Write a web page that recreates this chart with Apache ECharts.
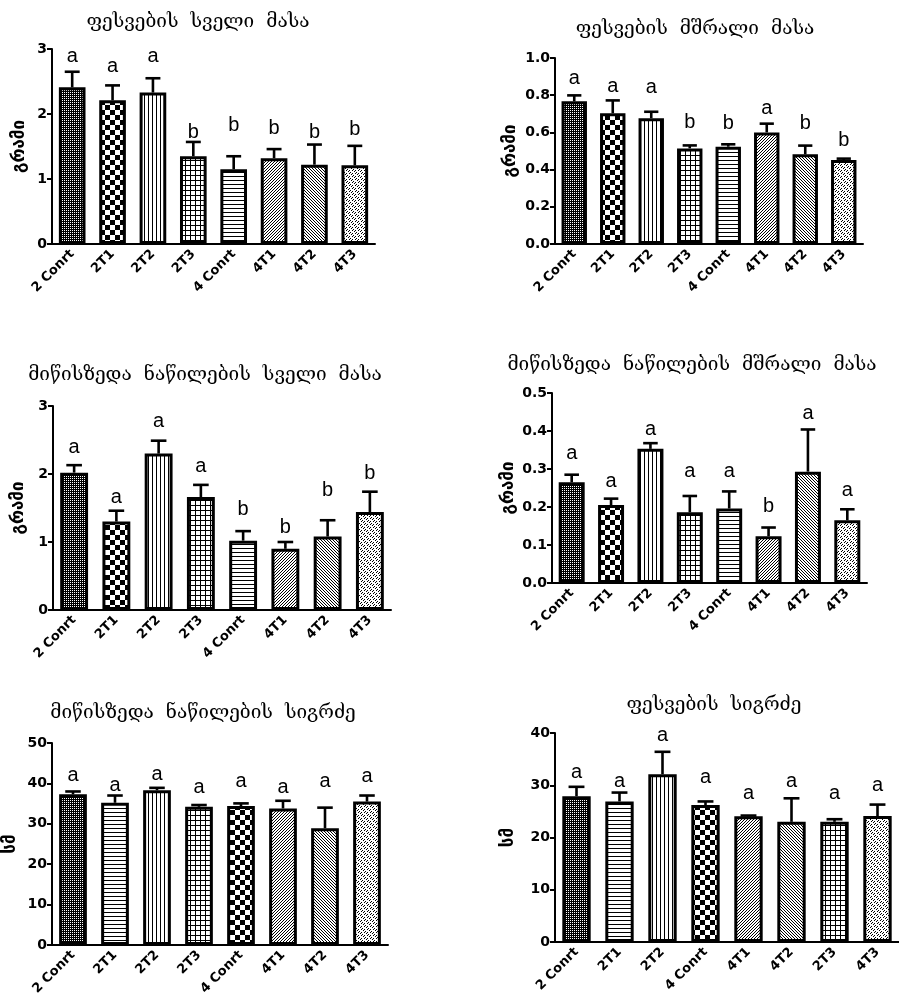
<!DOCTYPE html>
<html>
<head>
<meta charset="utf-8">
<script src="https://cdn.jsdelivr.net/npm/echarts@6/dist/echarts.min.js"></script>
<style>
  html, body { margin: 0; padding: 0; background: #fff; }
  #chart { width: 899px; height: 1004px; }
</style>
</head>
<body>
<div id="chart"></div>
<script>
// ---- data ----
const groupsMain = ['2 Conrt', '2T1', '2T2', '2T3', '4 Conrt', '4T1', '4T2', '4T3'];
const groupsRootLength = ['2 Conrt', '2T1', '2T2', '4 Conrt', '4T1', '4T2', '2T3', '4T3'];

// root fresh mass (g)
const rootFreshMean = [2.41, 2.21, 2.33, 1.35, 1.15, 1.32, 1.22, 1.21];
const rootFreshSem = [0.24, 0.23, 0.22, 0.22, 0.20, 0.14, 0.31, 0.30];
const rootFreshLetters = ['a', 'a', 'a', 'b', 'b', 'b', 'b', 'b'];
const rootFreshLetterAt = [2.89, 2.73, 2.89, 1.71, 1.82, 1.78, 1.71, 1.76];

// root dry mass (g)
const rootDryMean = [0.767, 0.703, 0.676, 0.514, 0.523, 0.600, 0.482, 0.452];
const rootDrySem = [0.032, 0.069, 0.035, 0.016, 0.013, 0.047, 0.047, 0.007];
const rootDryLetters = ['a', 'a', 'a', 'b', 'b', 'a', 'b', 'b'];
const rootDryLetterAt = [0.892, 0.848, 0.839, 0.651, 0.647, 0.726, 0.647, 0.557];

// shoot fresh mass (g)
const shootFreshMean = [2.02, 1.30, 2.30, 1.66, 1.02, 0.90, 1.08, 1.44];
const shootFreshSem = [0.11, 0.16, 0.19, 0.18, 0.14, 0.10, 0.24, 0.30];
const shootFreshLetters = ['a', 'a', 'a', 'a', 'b', 'b', 'b', 'b'];
const shootFreshLetterAt = [2.39, 1.66, 2.77, 2.11, 1.48, 1.21, 1.76, 2.01];

// shoot dry mass (g)
const shootDryMean = [0.265, 0.205, 0.353, 0.186, 0.196, 0.123, 0.293, 0.165];
const shootDrySem = [0.020, 0.017, 0.015, 0.043, 0.045, 0.023, 0.111, 0.029];
const shootDryLetters = ['a', 'a', 'a', 'a', 'a', 'b', 'a', 'a'];
const shootDryLetterAt = [0.340, 0.267, 0.403, 0.293, 0.293, 0.201, 0.447, 0.243];

// shoot length (cm)
const shootLengthMean = [37.3, 35.2, 38.3, 34.2, 34.4, 33.8, 28.9, 35.5];
const shootLengthSem = [0.7, 1.8, 0.6, 0.45, 0.65, 1.9, 5.1, 1.5];
const shootLengthLetters = ['a', 'a', 'a', 'a', 'a', 'a', 'a', 'a'];
const shootLengthLetterAt = [41.9, 39.4, 42.2, 39.0, 40.5, 39.0, 40.5, 41.6];

// root length (cm)
const rootLengthMean = [27.9, 26.9, 32.1, 26.2, 24.05, 23.0, 23.0, 24.1];
const rootLengthSem = [1.8, 1.7, 4.3, 0.7, 0.15, 4.5, 0.5, 2.2];
const rootLengthLetters = ['a', 'a', 'a', 'a', 'a', 'a', 'a', 'a'];
const rootLengthLetterAt = [32.5, 30.8, 39.6, 31.5, 28.4, 30.8, 28.4, 30.0];

// ---- fill patterns ----
function tile(w, h, paint) {
  const c = document.createElement('canvas');
  c.width = w; c.height = h;
  const g = c.getContext('2d');
  g.fillStyle = '#fff';
  g.fillRect(0, 0, w, h);
  g.fillStyle = '#000';
  paint(g, w, h);
  return { image: c, repeat: 'repeat' };
}
const fills = {
  dots: tile(2, 2, (g) => { g.fillRect(0, 0, 2, 2); g.fillStyle = '#fff'; g.fillRect(0, 0, 1, 1); }),
  checker: tile(10, 10, (g) => { g.fillRect(0, 0, 5, 5); g.fillRect(5, 5, 5, 5); }),
  vertical: tile(4, 1, (g) => { g.fillRect(0, 0, 1, 1); }),
  grid: tile(5, 5, (g) => { g.fillRect(0, 0, 5, 1); g.fillRect(0, 0, 1, 5); }),
  horizontal: tile(1, 4, (g) => { g.fillRect(0, 0, 1, 1); }),
  slash: tile(3, 3, (g) => {
    for (let y = 0; y < 3; y++) for (let x = 0; x < 3; x++) if ((x + y) % 3 === 0) g.fillRect(x, y, 1, 1);
  }),
  backslash: tile(3, 3, (g) => {
    for (let y = 0; y < 3; y++) for (let x = 0; x < 3; x++) if ((x - y + 3) % 3 === 0) g.fillRect(x, y, 1, 1);
  }),
  slashDash: tile(6, 6, (g) => {
    for (let y = 0; y < 6; y++) for (let x = 0; x < 6; x++) {
      if ((x + y) % 3 === 0 && ((x - y + 12) % 6) > 1) g.fillRect(x, y, 1, 1);
    }
  })
};

const fillsMain = ['dots', 'checker', 'vertical', 'grid', 'horizontal', 'slash', 'backslash', 'slashDash'];
const fillsShootLength = ['dots', 'horizontal', 'vertical', 'grid', 'checker', 'slash', 'backslash', 'slashDash'];
const fillsRootLength = ['dots', 'horizontal', 'vertical', 'checker', 'slash', 'backslash', 'grid', 'slashDash'];

// ---- panels ----
const panels = [
  { title: 'ფესვების  სველი  მასა', titleX: 198, titleY: 22, unit: 'გრამი', nameGap: 24,
    grid: { left: 52, top: 49, width: 323, height: 195 }, max: 3, interval: 1, digits: 0,
    cats: groupsMain, mean: rootFreshMean, sem: rootFreshSem, letters: rootFreshLetters, letterAt: rootFreshLetterAt, fill: fillsMain },
  { title: 'ფესვების  მშრალი  მასა', titleX: 695, titleY: 29, unit: 'გრამი', nameGap: 36,
    grid: { left: 555, top: 58, width: 308, height: 186 }, max: 1, interval: 0.2, digits: 1,
    cats: groupsMain, mean: rootDryMean, sem: rootDrySem, letters: rootDryLetters, letterAt: rootDryLetterAt, fill: fillsMain },
  { title: 'მიწისზედა  ნაწილების  სველი  მასა', titleX: 205, titleY: 375, unit: 'გრამი', nameGap: 26,
    grid: { left: 53, top: 406, width: 338, height: 204 }, max: 3, interval: 1, digits: 0,
    cats: groupsMain, mean: shootFreshMean, sem: shootFreshSem, letters: shootFreshLetters, letterAt: shootFreshLetterAt, fill: fillsMain },
  { title: 'მიწისზედა  ნაწილების  მშრალი  მასა', titleX: 692, titleY: 365, unit: 'გრამი', nameGap: 35,
    grid: { left: 552, top: 393, width: 315, height: 190 }, max: 0.5, interval: 0.1, digits: 1,
    cats: groupsMain, mean: shootDryMean, sem: shootDrySem, letters: shootDryLetters, letterAt: shootDryLetterAt, fill: fillsMain },
  { title: 'მიწისზედა  ნაწილების  სიგრძე', titleX: 203, titleY: 713, unit: 'სმ', nameGap: 33,
    grid: { left: 52, top: 743, width: 336, height: 202 }, max: 50, interval: 10, digits: 0,
    cats: groupsMain, mean: shootLengthMean, sem: shootLengthSem, letters: shootLengthLetters, letterAt: shootLengthLetterAt, fill: fillsShootLength },
  { title: 'ფესვების  სიგრძე', titleX: 714, titleY: 705, unit: 'სმ', nameGap: 38,
    grid: { left: 555, top: 733, width: 344, height: 209 }, max: 40, interval: 10, digits: 0,
    cats: groupsRootLength, mean: rootLengthMean, sem: rootLengthSem, letters: rootLengthLetters, letterAt: rootLengthLetterAt, fill: fillsRootLength }
];

const AXIS_FONT = '"DejaVu Sans", sans-serif';
const GEO_FONT = '"DejaVu Serif", "DejaVu Sans", serif';

const grids = [], xAxes = [], yAxes = [], series = [], graphics = [];

panels.forEach((p, k) => {
  grids.push(Object.assign({ containLabel: false }, p.grid));
  xAxes.push({
    type: 'category', gridIndex: k, data: p.cats,
    axisLine: { lineStyle: { color: '#000', width: 2 } },
    axisTick: { alignWithLabel: true, length: 5, lineStyle: { color: '#000', width: 2 } },
    axisLabel: { rotate: 45, interval: 0, margin: 8, color: '#000', fontSize: 13, fontWeight: 'bold', fontFamily: AXIS_FONT },
    splitLine: { show: false }
  });
  yAxes.push({
    type: 'value', gridIndex: k, min: 0, max: p.max, interval: p.interval,
    name: p.unit, nameLocation: 'middle', nameGap: p.nameGap, nameRotate: 90,
    nameTextStyle: { color: '#000', fontSize: 17, fontWeight: 'bold', fontFamily: AXIS_FONT },
    axisLine: { show: true, lineStyle: { color: '#000', width: 2 } },
    axisTick: { show: true, length: 5, lineStyle: { color: '#000', width: 2 } },
    axisLabel: { color: '#000', fontSize: 14, fontWeight: 'bold', fontFamily: AXIS_FONT, margin: 5,
      formatter: (v) => v.toFixed(p.digits) },
    splitLine: { show: false }
  });

  series.push({
    type: 'bar', xAxisIndex: k, yAxisIndex: k, barCategoryGap: '34%', z: 2,
    data: p.mean.map((v, i) => ({
      value: v,
      itemStyle: { color: fills[p.fill[i]], borderColor: '#000', borderWidth: 3 }
    }))
  });

  // error bars: stem from the bar top up to mean + SEM, with a cap
  series.push({
    type: 'custom', xAxisIndex: k, yAxisIndex: k, z: 3, silent: true,
    data: p.mean.map((v, i) => [i, v, v + p.sem[i]]),
    renderItem: (params, api) => {
      const base = api.coord([api.value(0), api.value(1)]);
      const top = api.coord([api.value(0), api.value(2)]);
      const half = api.size([1, 0])[0] * 0.66 * 0.28;
      return {
        type: 'group',
        children: [
          { type: 'line', shape: { x1: base[0], y1: base[1], x2: top[0], y2: top[1] },
            style: { stroke: '#000', lineWidth: 2.6 } },
          { type: 'line', shape: { x1: top[0] - half, y1: top[1], x2: top[0] + half, y2: top[1] },
            style: { stroke: '#000', lineWidth: 2.6 } }
        ]
      };
    }
  });

  // significance letters
  series.push({
    type: 'custom', xAxisIndex: k, yAxisIndex: k, z: 4, silent: true,
    data: p.letterAt.map((v, i) => [i, v, p.letters[i]]),
    renderItem: (params, api) => {
      const pt = api.coord([api.value(0), api.value(1)]);
      const i = params.dataIndex;
      return {
        type: 'text',
        style: { x: pt[0], y: pt[1], text: p.letters[i], fill: '#000',
          font: '20px "Liberation Sans", Arial, sans-serif',
          align: 'center', verticalAlign: 'middle', textAlign: 'center', textVerticalAlign: 'middle' }
      };
    }
  });

  graphics.push({
    type: 'text', x: p.titleX, y: p.titleY,
    style: { text: p.title, fill: '#000', font: '19px ' + GEO_FONT,
      align: 'center', verticalAlign: 'middle', textAlign: 'center', textVerticalAlign: 'middle' }
  });
});

const chart = echarts.init(document.getElementById('chart'), null, { renderer: 'canvas' });
chart.setOption({
  animation: false,
  backgroundColor: '#fff',
  grid: grids,
  xAxis: xAxes,
  yAxis: yAxes,
  series: series,
  graphic: graphics
});
</script>
</body>
</html>
